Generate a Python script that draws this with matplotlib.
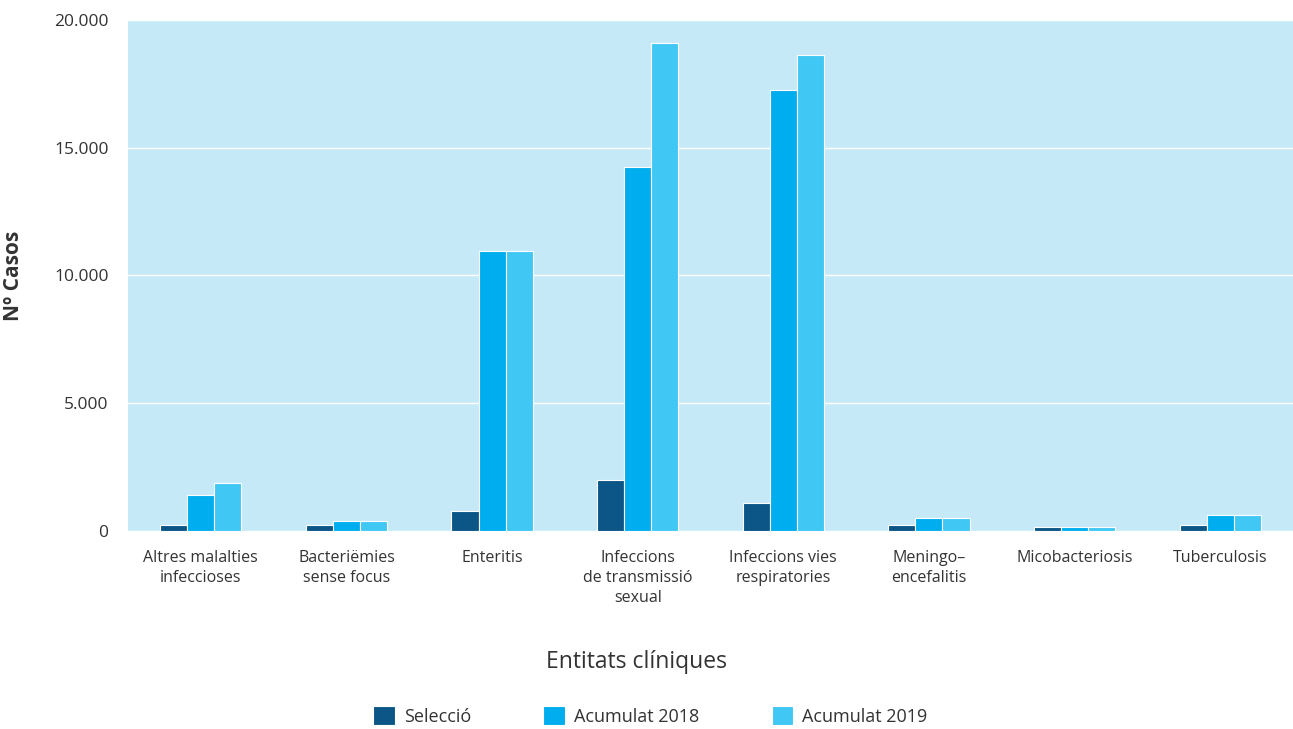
import matplotlib.pyplot as plt
import matplotlib.ticker as mticker
import numpy as np

plt.rcParams['font.family'] = ['Open Sans', 'DejaVu Sans']

# Data
categories = ['Altres malalties\ninfeccioses', 'Bacteriëmies\nsense focus', 'Enteritis',
              'Infeccions\nde transmissió\nsexual', 'Infeccions vies\nrespiratories',
              'Meningo–\nencefalitis', 'Micobacteriosis', 'Tuberculosis']
seleccio = [250, 250, 780, 2000, 1100, 250, 160, 240]
acumulat_2018 = [1400, 400, 10960, 14250, 17260, 510, 160, 630]
acumulat_2019 = [1880, 400, 10960, 19100, 18630, 510, 160, 630]
series_names = ['Selecció', 'Acumulat 2018', 'Acumulat 2019']
colors = ['#0b5687', '#00adee', '#41c7f4']

text_color = '#333333'

fig = plt.figure(figsize=(12.93, 7.29), dpi=100)
ax = fig.add_axes([0.099, 0.2716, 0.901, 0.701])
ax.set_facecolor('#c6e9f8')

x = np.arange(len(categories))
w = 0.186
for i, vals in enumerate([seleccio, acumulat_2018, acumulat_2019]):
    ax.bar(x + (i - 1) * w, vals, width=w, color=colors[i], edgecolor='white',
           linewidth=0.8, label=series_names[i], zorder=3)

ax.set_xlim(-0.5, len(categories) - 0.5)
ax.set_ylim(0, 20000)
ax.set_yticks([0, 5000, 10000, 15000, 20000])
ax.yaxis.set_major_formatter(mticker.FuncFormatter(lambda v, p: f'{int(v):,}'.replace(',', '.')))
ax.grid(axis='y', color='white', linewidth=1, zorder=1)
ax.set_axisbelow(True)

for s in ax.spines.values():
    s.set_visible(False)
ax.tick_params(axis='both', length=0, colors=text_color)
ax.tick_params(axis='y', labelsize=12.5, pad=14)
ax.set_xticks(x)
ax.set_xticklabels(categories, fontsize=11.5, color=text_color, linespacing=1.3)
ax.tick_params(axis='x', pad=14)

ax.set_ylabel('Nº Casos', fontsize=15, fontweight='bold', color=text_color, labelpad=22)
fig.text(0.492, 0.092, 'Entitats clíniques', fontsize=16.5, color=text_color, ha='center', va='center')

fig.legend(loc='center', bbox_to_anchor=(0.503, 0.018), ncol=3, frameon=False,
           fontsize=13, handlelength=1.2, handleheight=1.2, handletextpad=0.5,
           columnspacing=4.0, labelcolor=text_color)

fig.savefig('out.png', dpi=100)
